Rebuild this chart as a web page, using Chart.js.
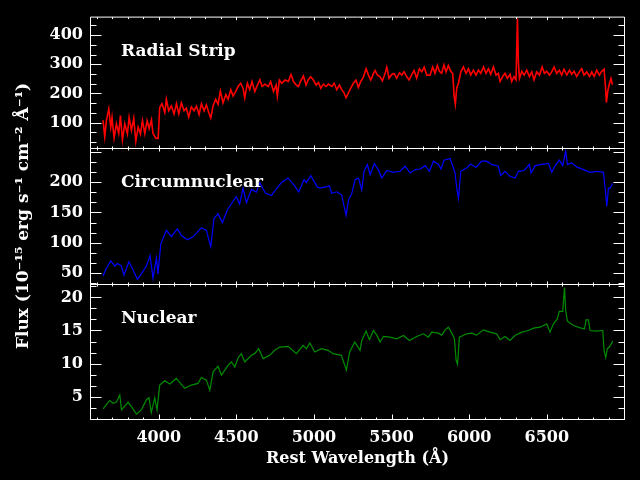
<!DOCTYPE html>
<html><head><meta charset="utf-8">
<script src="https://cdn.jsdelivr.net/npm/chart.js@4"></script>
<style>
html,body{margin:0;padding:0;background:#000;}
#wrap{position:relative;width:640px;height:480px;background:#000;overflow:hidden;}
canvas{position:absolute;left:0;top:0;}
</style></head><body>
<div id="wrap">
<canvas id="c1" width="640" height="480"></canvas>
<canvas id="c2" width="640" height="480"></canvas>
<canvas id="c3" width="640" height="480"></canvas>
</div>
<script>
// ---- data ----
const xTickLabels = [4000, 4500, 5000, 5500, 6000, 6500];
const panelLabels = ['Radial Strip', 'Circumnuclear', 'Nuclear'];
const xTitle = 'Rest Wavelength (Å)';
const yTitle = 'Flux (10⁻¹⁵ erg s⁻¹ cm⁻² Å⁻¹)';
const yTickLabels1 = [100, 200, 300, 400];
const yTickLabels2 = [50, 100, 150, 200];
const yTickLabels3 = [5, 10, 15, 20];

const redWave = [3641,3652,3663,3678,3691,3699,3712,3727,3742,3753,3766,3781,3798,3809,3824,3839,3852,3867,3882,3895,3910,3925,3938,3953,3963,3981,3996,
4006,4021,4039,4049,4064,4081,4099,4114,4129,4146,4163,4178,4193,4210,4228,4243,4260,4275,4292,4307,4322,4335,4350,4367,4382,4397,4414,4432,4447,4464,4479,4496,
4511,4528,4543,4554,4571,4586,4601,4619,4636,4651,4666,4683,4706,4721,4739,4756,4764,4777,4792,4814,4835,4852,4868,4885,4900,4915,4932,4949,4964,4979,4996,
5014,5029,5044,5061,5078,5093,5115,5130,5147,5164,5179,5194,5207,5222,5237,5254,5271,5286,5301,5319,5336,5351,5366,5383,5394,5409,5426,5441,5458,5469,5484,
5501,5518,5533,5551,5566,5581,5598,5613,5630,5645,5662,5679,5695,5710,5727,5748,5765,5780,5795,5808,5823,5838,5851,5866,5881,5894,5903,5911,5920,5931,5946,5963,5980,5995,
6010,6027,6044,6059,6075,6092,6109,6124,6139,6156,6173,6188,6199,6216,6231,6246,6264,6274,6289,6302,6311,6317,6324,6339,6354,6371,6388,6403,6418,6435,6453,6470,6485,
6500,6517,6532,6547,6564,6581,6596,6611,6629,6646,6661,6676,6693,6710,6725,6740,6758,6775,6790,6805,6822,6839,6854,6869,6878,6884,6893,6904,6914,6923];
const redFlux = [108,52,108,147,85,118,47,96,63,124,41,96,61,118,74,115,36,85,61,107,63,107,80,110,63,47,46,
152,165,135,180,141,157,130,165,130,168,141,150,119,154,141,157,128,165,141,161,135,116,157,180,163,208,168,196,180,213,191,207,
224,235,218,185,235,213,241,207,229,247,224,232,224,241,207,229,191,246,235,246,241,265,241,229,224,243,260,229,248,257,246,
229,238,218,232,224,232,224,235,213,229,213,202,185,202,218,235,246,221,241,257,285,263,246,268,279,263,257,243,268,290,252,
265,268,252,271,263,274,257,246,265,279,252,285,274,290,263,263,291,269,296,276,269,298,274,296,276,269,191,163,219,235,274,291,269,285,
263,280,263,280,269,291,269,285,266,291,263,269,241,258,269,252,266,241,258,247,457,308,252,276,263,280,258,274,247,274,263,291,269,
276,263,274,291,269,280,263,283,263,280,266,276,258,274,285,263,274,258,274,258,280,263,276,283,224,169,208,235,252,230];

const blueWave = [3641,3662,3691,3717,3734,3759,3776,3807,3828,3862,3888,3920,3944,3963,3985,3995,
4013,4049,4082,4120,4146,4184,4221,4275,4307,4335,4356,4382,4410,4442,4472,4500,4521,4543,4565,4597,4629,4651,4687,4726,4758,4790,4833,4872,4902,4936,4951,4979,
5022,5039,5082,5099,5114,5147,5179,5195,5207,5222,5244,5265,5287,5308,5323,5344,5362,5389,5415,5437,5469,5512,5555,5587,5619,5652,5684,5716,5744,5770,5802,5819,5838,5877,5894,5909,5920,5931,5946,5984,
6010,6044,6081,6113,6145,6188,6203,6231,6263,6296,6317,6354,6388,6399,6425,6468,6511,6532,6554,6581,6603,6622,6633,6661,6693,6736,6779,6822,6865,6876,6887,6897,6908,6925];
const blueFlux = [45.5,58,70.5,62,66,62,47,69,59,40,49,62,79,42,75,48.6,
98,120.5,110.6,123,112,105,110,125,120.5,94,140,148,133,154,166,176,164,190,166,188,183.5,199,182,178,189,199,206.7,195,183.5,204,199,210.5,
192,190,192.5,194,181.6,184,178.6,159,145.5,170,181.6,204,206.6,187,217.7,228.8,212,230.5,220,206.6,219,216,217.7,226,215,220.5,221.5,227,217.7,234.4,229,221.5,236,238.8,226,215,190,173,217.7,223,
229.6,224,234.4,234.4,229,226,210.5,217.7,209.4,206.6,217.7,219,229,215,227,229,230.5,216,227,236,227,251,229,231.6,225,220.5,216,217.7,216,190,160.5,190,190,198];

const greenWave = [3643,3652,3684,3706,3727,3749,3760,3802,3824,3856,3888,3920,3937,3952,3974,3989,
4006,4039,4071,4113,4167,4210,4253,4275,4307,4329,4350,4382,4404,4447,4468,4490,4511,4532,4554,4597,4618,4644,4672,4715,4747,4780,4833,4887,4930,4951,4973,
5005,5048,5091,5123,5177,5198,5209,5230,5263,5297,5308,5336,5357,5383,5405,5426,5448,5490,5533,5577,5615,5662,5705,5737,5759,5802,5823,5845,5866,5888,5905,5916,5925,5937,5984,
6016,6048,6091,6134,6177,6199,6231,6263,6295,6339,6382,6414,6457,6500,6521,6543,6568,6581,6603,6614,6622,6633,6672,6715,6743,6753,6768,6779,6822,6861,6869,6880,6890,6903,6925];
const greenFlux = [3.15,3.5,4.4,4.0,4.2,5.25,3.0,4.15,3.5,2.35,3.0,4.5,4.85,2.6,4.8,3.0,
6.75,7.4,6.9,7.75,6.25,6.75,7.0,7.9,7.5,6.0,8.75,9.6,8.25,9.75,10.25,9.5,10.85,11.5,10.25,11.25,11.5,12.25,10.75,11.25,12.0,12.5,12.6,11.5,12.75,12.25,13.1,
11.75,12.25,12.0,11.5,11.25,9.75,9.0,11.75,13.25,12.0,13.5,14.9,13.6,15.0,14.3,13.25,14.1,14.0,13.75,14.25,13.5,14.1,14.5,14.0,14.75,14.6,14.3,15.1,15.5,14.6,13.75,10.5,9.9,14.0,14.5,
14.6,14.3,15.1,14.75,14.5,13.6,14.1,13.5,14.25,14.75,15.0,15.35,15.5,16.0,14.75,16.0,16.75,17.9,17.9,21.5,18.0,16.4,15.75,15.4,15.25,16.6,16.6,15.0,14.9,15.0,12.0,10.9,12.25,12.5,13.4];

// axis ranges
const xMin = 3557, xMax = 7004;
const yRange1 = [13.3, 463.3];
const yRange2 = [32.4, 256];
const yRange3 = [1.62, 22.03];
const yMajorStep = [100, 50, 5];
const xMajorStep = 500, xMinorStep = 100;

// ---- layout / style ----
const PLOT_LEFT = 90, PLOT_RIGHT = 625;
const bands = [[13, 148], [148, 284], [284, 419]];
const FONT = 'DejaVu Serif';

function pts(w, f) { return w.map((x, i) => ({x: x, y: f[i]})); }

const framePlugin = {
  id: 'frame',
  afterDraw(chart, args, opts) {
    const {ctx, chartArea: a} = chart;
    const xs = chart.scales.x, ys = chart.scales.y;
    const p = opts.panel;
    ctx.save();
    ctx.strokeStyle = '#fff';
    ctx.lineWidth = 1;
    ctx.beginPath();
    const L = a.left + 0.5, R = a.right - 0.5, T = a.top + 0.5, B = a.bottom + 0.5;
    ctx.moveTo(L, T); ctx.lineTo(R, T); ctx.lineTo(R, B); ctx.lineTo(L, B); ctx.closePath();
    const maj = yMajorStep[p], mstep = maj / 3;
    const k0 = Math.ceil(ys.min / mstep - 1e-6), k1 = Math.floor(ys.max / mstep + 1e-6);
    for (let k = k0; k <= k1; k++) {
      const isMaj = k % 3 === 0;
      const y = Math.round(ys.getPixelForValue(k * mstep)) + 0.5;
      const len = isMaj ? 11 : 6;
      ctx.moveTo(L, y); ctx.lineTo(L + len, y);
      ctx.moveTo(R, y); ctx.lineTo(R - len, y);
    }
    for (let v = Math.ceil(xMin / xMinorStep) * xMinorStep; v <= xMax; v += xMinorStep) {
      const isMaj = v % xMajorStep === 0;
      const x = Math.round(xs.getPixelForValue(v)) + 0.5;
      const lt = isMaj ? 3 : 2;
      const lb = (p === 2) ? (isMaj ? 5 : 2) : lt;
      ctx.moveTo(x, T); ctx.lineTo(x, T + lt);
      ctx.moveTo(x, B); ctx.lineTo(x, B - lb);
    }
    ctx.stroke();
    ctx.fillStyle = '#fff';
    ctx.font = 'bold 17px "' + FONT + '"';
    ctx.textBaseline = 'alphabetic';
    ctx.textAlign = 'left';
    ctx.fillText(panelLabels[p], a.left + 31, a.top + 39);
    ctx.restore();
  }
};

function makeChart(id, p, wave, flux, color, width, yRange, yTicks) {
  const showX = p === 2;
  const band = bands[p];
  return new Chart(document.getElementById(id), {
    type: 'line',
    data: { datasets: [{ data: pts(wave, flux), borderColor: color, borderWidth: width,
      pointRadius: 0, fill: false, tension: 0 }] },
    options: {
      responsive: false, animation: false, devicePixelRatio: 1,
      layout: { padding: { left: 0, right: 640 - PLOT_RIGHT, top: band[0], bottom: showX ? 0 : 480 - band[1] } },
      plugins: { legend: { display: false }, tooltip: { enabled: false }, frame: { panel: p } },
      scales: {
        x: {
          type: 'linear', min: xMin, max: xMax, display: showX,
          grid: { display: false, drawTicks: false }, border: { display: false },
          afterBuildTicks: s => { s.ticks = xTickLabels.map(v => ({value: v})); },
          afterFit: s => { if (showX) s.height = 480 - band[1]; },
          ticks: { color: '#fff', padding: 9, maxRotation: 0, autoSkip: false,
            callback: v => String(v),
            font: { family: FONT, size: 16, weight: 'bold' } },
          title: { display: showX, text: xTitle, color: '#fff', padding: { top: 0, bottom: 12 },
            font: { family: FONT, size: 16, weight: 'bold' } }
        },
        y: {
          type: 'linear', min: yRange[0], max: yRange[1],
          grid: { display: false, drawTicks: false }, border: { display: false },
          afterBuildTicks: s => { s.ticks = yTicks.map(v => ({value: v})); },
          afterFit: s => { s.width = PLOT_LEFT; },
          ticks: { color: '#fff', padding: 7, autoSkip: false,
            callback: v => String(v),
            font: { family: FONT, size: 16, weight: 'bold' } },
          title: { display: p === 1, text: yTitle, color: '#fff', padding: { top: 13, bottom: 0 },
            font: { family: FONT, size: 17, weight: 'bold' } }
        }
      }
    },
    plugins: [framePlugin]
  });
}

makeChart('c1', 0, redWave, redFlux, '#ff0000', 1.6, yRange1, yTickLabels1);
makeChart('c2', 1, blueWave, blueFlux, '#0000ff', 1.2, yRange2, yTickLabels2);
makeChart('c3', 2, greenWave, greenFlux, '#008c00', 1.2, yRange3, yTickLabels3);
</script>
</body></html>
